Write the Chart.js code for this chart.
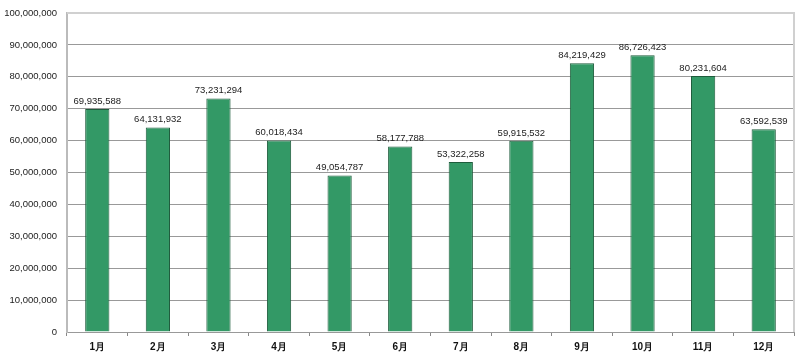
<!DOCTYPE html>
<html>
<head>
<meta charset="utf-8">
<script src="https://cdn.jsdelivr.net/npm/chart.js@4/dist/chart.umd.min.js"></script>
<style>
html,body{margin:0;padding:0;background:#fff;}
#wrap{width:800px;height:359px;position:relative;}
</style>
</head>
<body>
<div id="wrap"><canvas id="c" width="800" height="359"></canvas></div>
<script>
const categories = ['1月','2月','3月','4月','5月','6月','7月','8月','9月','10月','11月','12月'];
const values = [69935588, 64131932, 73231294, 60018434, 49054787, 58177788, 53322258, 59915532, 84219429, 86726423, 80231604, 63592539];
const yMin = 0, yMax = 100000000, yStep = 10000000;

const fmt = v => v.toLocaleString('en-US');

const labelPlugin = {
  id: 'valLabels',
  afterDatasetsDraw(chart) {
    const ctx = chart.ctx;
    const meta = chart.getDatasetMeta(0);
    ctx.save();
    ctx.font = '9.5px "Liberation Sans", Arial, sans-serif';
    ctx.fillStyle = '#222';
    ctx.textAlign = 'center';
    ctx.textBaseline = 'bottom';
    meta.data.forEach((bar, i) => {
      ctx.fillText(fmt(values[i]), bar.x, bar.y - 3);
    });
    ctx.restore();
  }
};

const borderPlugin = {
  id: 'frame',
  beforeDatasetsDraw(chart) {
    const {ctx, chartArea: a} = chart;
    ctx.save();
    ctx.strokeStyle = '#d0d0d0';
    ctx.lineWidth = 2;
    ctx.beginPath();
    ctx.moveTo(a.left, a.top);
    ctx.lineTo(a.right, a.top);
    ctx.lineTo(a.right, a.bottom);
    ctx.stroke();
    ctx.restore();
  }
};

new Chart(document.getElementById('c'), {
  type: 'bar',
  data: {
    labels: categories,
    datasets: [{
      data: values,
      backgroundColor: '#339966',
      borderColor: '#1e5c3c',
      borderWidth: 1,
      barPercentage: 0.8,
      categoryPercentage: 0.5
    }]
  },
  options: {
    responsive: false,
    animation: false,
    devicePixelRatio: 1,
    layout: { padding: { top: 13, right: 6, left: 0, bottom: 0 } },
    plugins: { legend: { display: false }, tooltip: { enabled: false } },
    scales: {
      x: {
        grid: { display: true, drawOnChartArea: false, offset: true, color: '#888', tickLength: 4 },
        border: { display: true, color: '#999', width: 1 },
        ticks: { color: '#111', font: { family: '"Liberation Sans", Arial, sans-serif', size: 10, weight: 'bold' }, padding: 5 },
        afterFit(s) { s.height = 27; s.paddingLeft = 0; s.paddingRight = 0; }
      },
      y: {
        min: yMin, max: yMax,
        grid: { color: '#999', drawTicks: false, lineWidth: 1 },
        border: { display: true, color: '#bbb', width: 2 },
        ticks: { stepSize: yStep, color: '#222', padding: 10,
          font: { family: '"Liberation Sans", Arial, sans-serif', size: 9.5 },
          callback: v => fmt(v) },
        afterFit(s) { s.width = 67; s.paddingTop = 0; s.paddingBottom = 0; }
      }
    }
  },
  plugins: [borderPlugin, labelPlugin]
});
</script>
</body>
</html>
